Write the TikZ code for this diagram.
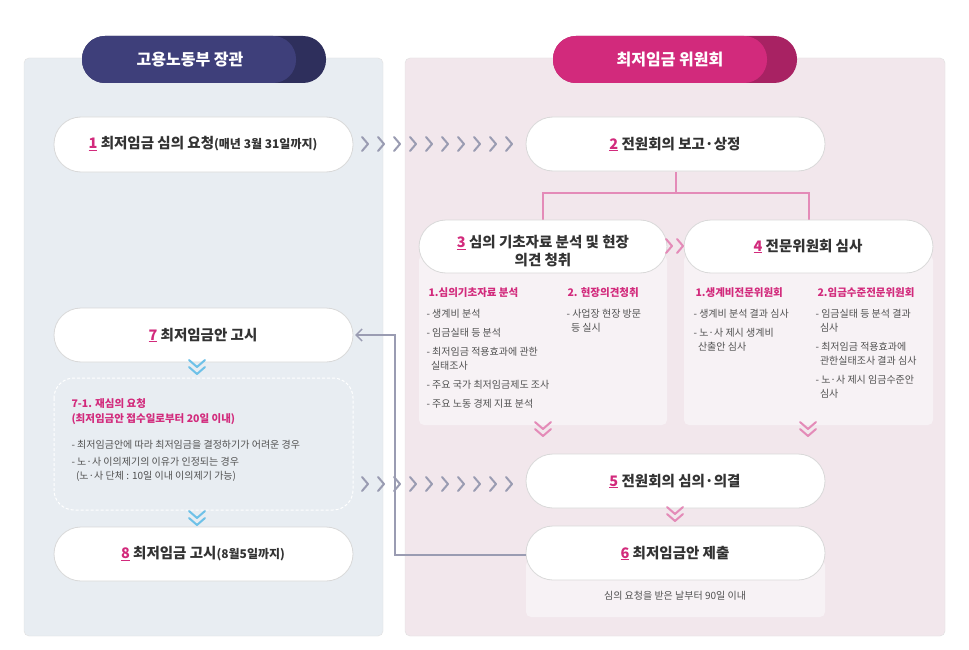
\documentclass[tikz,border=0pt]{standalone}
\usepackage{fontspec}
\setmainfont{Noto Sans CJK KR}
\usetikzlibrary{arrows.meta}
\definecolor{mag}{HTML}{D22A7C}
\definecolor{indi}{HTML}{3E3F7A}
\definecolor{lpanel}{HTML}{E8EDF2}
\definecolor{rpanel}{HTML}{F2E7EC}
\definecolor{dbox}{HTML}{F7F2F5}
\definecolor{chg}{HTML}{9A9CB2}
\definecolor{chp}{HTML}{E48BB8}
\definecolor{chb}{HTML}{6EC1E8}
\definecolor{txt}{HTML}{333333}
\newcommand{\nm}[1]{{\color{mag}\underline{#1}}}
\tikzset{
 pill/.style={draw=black!15,fill=white,rounded corners=27pt,line width=0.8pt},
 ptext/.style={font=\bfseries\fontsize{14.5}{18}\selectfont,text=txt,align=center},
 dtxt/.style={font=\fontsize{10}{14}\selectfont,text=txt!85,align=left,anchor=north west},
 dhead/.style={font=\bfseries\fontsize{10.5}{15}\selectfont,text=mag,align=left,anchor=north west},
 chr/.pic={\draw[line width=2pt,line cap=round,line join=round] (-3,-7)--(3,0)--(-3,7);},
 chd/.pic={\draw[line width=2pt,line cap=round,line join=round] (-8,-7)--(0,0)--(8,-7) (-8,0)--(0,7)--(8,0);},
}
\begin{document}
\begin{tikzpicture}[x=1pt,y=-1pt]
\useasboundingbox (0,0) rectangle (969,650);
\fill[white] (0,0) rectangle (969,650);
% panels
\draw[draw=black!12,fill=lpanel,rounded corners=5pt] (24,58) rectangle (383,636);
\draw[draw=black!12,fill=rpanel,rounded corners=5pt] (405,58) rectangle (945,636);
% headers
\fill[indi!75!black,rounded corners=23pt] (82,36) rectangle (326,83);
\fill[indi,rounded corners=23pt] (82,36) rectangle (296,83);
\node[font=\bfseries\fontsize{16}{19}\selectfont,text=white] (h1) at (190,60) {고용노동부 장관};
\fill[mag!80!black,rounded corners=23pt] (553,36) rectangle (797,83);
\fill[mag,rounded corners=23pt] (553,36) rectangle (767,83);
\node[font=\bfseries\fontsize{16}{19}\selectfont,text=white] (h2) at (670,60) {최저임금 위원회};
% detail boxes
\fill[dbox,rounded corners=5pt] (419,255) rectangle (667,425);
\fill[dbox,rounded corners=5pt] (684,255) rectangle (933,425);
\fill[dbox,rounded corners=5pt] (526,560) rectangle (825,617);
% bracket
\draw[chp,line width=1.5pt] (676,172)--(676,193) (543,220)--(543,193)--(809,193)--(809,220);
% pills
\draw[pill] (54,117) rectangle (353,172);
\node[ptext] (n1) at (203,144) {\nm{1} 최저임금 심의 요청{\fontsize{12}{14}\selectfont(매년 3월 31일까지)}};
\draw[pill] (526,117) rectangle (825,171);
\node[ptext] (n2) at (675,144) {\nm{2} 전원회의 보고·상정};
\draw[pill] (419,220) rectangle (667,273);
\node[ptext] (n3) at (543,251) {\nm{3} 심의 기초자료 분석 및 현장\\의견 청취};
\draw[pill] (684,220) rectangle (933,273);
\node[ptext] (n4) at (808,246) {\nm{4} 전문위원회 심사};
\draw[pill] (526,454) rectangle (825,508);
\node[ptext] (n5) at (675,481) {\nm{5} 전원회의 심의·의결};
\draw[pill] (526,526) rectangle (825,580);
\node[ptext] (n6) at (675,553) {\nm{6} 최저임금안 제출};
\draw[pill] (54,308) rectangle (353,362);
\node[ptext] (n7) at (203,335) {\nm{7} 최저임금안 고시};
\draw[pill] (54,527) rectangle (353,581);
\node[ptext] (n8) at (203,554) {\nm{8} 최저임금 고시{\fontsize{12}{14}\selectfont(8월5일까지)}};
\coordinate (n6w) at (526,555);
\coordinate (n7e) at (355,335);
% dashed box
\draw[white,line width=1pt,dash pattern=on 3pt off 2pt,rounded corners=20pt] (54,378) rectangle (353,510);
\node[dhead] (r1) at (68,395) {7-1. 재심의 요청\\(최저임금안 접수일로부터 20일 이내)};
\node[dtxt] (r2) at (68,437) {- 최저임금안에 따라 최저임금을 결정하기가 어려운 경우\\[3pt]- 노·사 이의제기의 이유가 인정되는 경우\\\ \ (노·사 단체 : 10일 이내 이의제기 가능)};
% detail 3
\node[dhead] (d31) at (425,284) {1.심의기초자료 분석};
\node[dtxt] (d32) at (423,306) {- 생계비 분석\\[5pt]- 임금실태 등 분석\\[5pt]- 최저임금 적용효과에 관한\\\ \ 실태조사\\[5pt]- 주요 국가 최저임금제도 조사\\[5pt]- 주요 노동 경제 지표 분석};
\node[dhead] (d33) at (564,284) {2. 현장의견청취};
\node[dtxt] (d34) at (563,306) {- 사업장 현장 방문\\\ \ 등 실시};
% detail 4
\node[dhead] (d41) at (692,284) {1.생계비전문위원회};
\node[dtxt] (d42) at (690,306) {- 생계비 분석 결과 심사\\[5pt]- 노·사 제시 생계비\\\ \ 산출안 심사};
\node[dhead] (d43) at (814,284) {2.임금수준전문위원회};
\node[dtxt] (d44) at (812,306) {- 임금실태 등 분석 결과\\\ \ 심사\\[5pt]- 최저임금 적용효과에\\\ \ 관한실태조사 결과 심사\\[5pt]- 노·사 제시 임금수준안\\\ \ 심사};
\node[font=\fontsize{10}{12}\selectfont,text=txt!85] (d6) at (675,596) {심의 요청을 받은 날부터 90일 이내};
% chevrons
\foreach \x in {365,381,397,413,429,445,461,477,493,509} {\path[chg] (\x,144) pic{chr}; \path[chg] (\x,484) pic{chr};}
\foreach \x in {669,680} {\path[chp] (\x,246) pic{chr};}
\path[chp] (543,429) pic{chd};
\path[chp] (808,429) pic{chd};
\path[chp] (675,514) pic{chd};
\path[chb] (197,367) pic{chd};
\path[chb] (197,518) pic{chd};
% return connector
\draw[chg,line width=1.5pt,-{Straight Barb[length=6pt,width=12pt]}] (n6w) -- (395,555) -- (395,335) -- (n7e);
\end{tikzpicture}
\end{document}
